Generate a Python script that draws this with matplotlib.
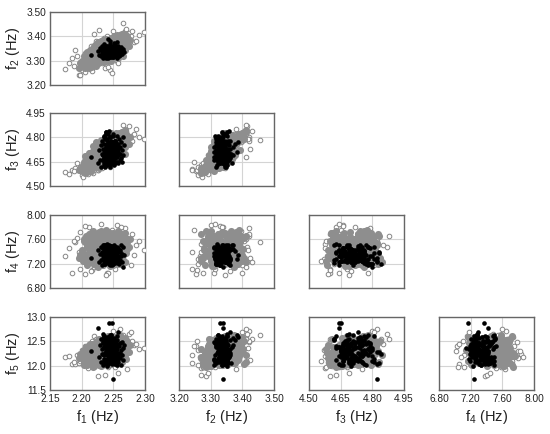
import matplotlib
matplotlib.use('Agg')
import matplotlib.pyplot as plt

plt.rcParams['font.family'] = ['Liberation Sans', 'DejaVu Sans']
plt.rcParams['mathtext.default'] = 'regular'

# dense middle of the grey cloud
core_f1 = [2.200, 2.202, 2.204, 2.205, 2.207, 2.208, 2.209, 2.210, 2.211, 2.212,
           2.213, 2.214, 2.215, 2.216, 2.216, 2.217, 2.218, 2.219, 2.220, 2.220,
           2.221, 2.222, 2.223, 2.224, 2.224, 2.225, 2.226, 2.227, 2.228, 2.228,
           2.229, 2.230, 2.231, 2.232, 2.232, 2.233, 2.234, 2.235, 2.236, 2.236,
           2.237, 2.238, 2.239, 2.240, 2.240, 2.241, 2.242, 2.243, 2.244, 2.244,
           2.245, 2.246, 2.247, 2.248, 2.248, 2.249, 2.250, 2.251, 2.252, 2.252,
           2.253, 2.254, 2.255, 2.256, 2.256, 2.257, 2.258, 2.259, 2.260, 2.261,
           2.262, 2.263, 2.264, 2.265, 2.266, 2.267, 2.268, 2.269, 2.270, 2.272,
           2.198, 2.203, 2.206, 2.209, 2.211, 2.213, 2.215, 2.217, 2.218, 2.220,
           2.222, 2.223, 2.225, 2.226, 2.227, 2.228, 2.229, 2.230, 2.231, 2.232,
           2.233, 2.234, 2.235, 2.235, 2.236, 2.237, 2.238, 2.239, 2.240, 2.241,
           2.242, 2.243, 2.244, 2.245, 2.246, 2.247, 2.248, 2.249, 2.250, 2.251,
           2.252, 2.253, 2.254, 2.255, 2.256, 2.257, 2.258, 2.259, 2.260, 2.261,
           2.262, 2.263, 2.264, 2.265, 2.266, 2.268, 2.270, 2.272, 2.274, 2.276,
           2.212, 2.218, 2.222, 2.226, 2.230, 2.234, 2.238, 2.242, 2.246, 2.250,
           2.228, 2.232, 2.236, 2.240, 2.244, 2.248, 2.252, 2.256, 2.220, 2.224,
           2.216, 2.214, 2.260, 2.264, 2.258, 2.254, 2.246, 2.238, 2.230, 2.208,
           2.206, 2.210, 2.266, 2.268, 2.200, 2.196]
core_f2 = [3.280, 3.300, 3.275, 3.305, 3.290, 3.312, 3.283, 3.298, 3.318, 3.290,
           3.325, 3.295, 3.312, 3.330, 3.285, 3.305, 3.320, 3.298, 3.335, 3.310,
           3.290, 3.325, 3.345, 3.305, 3.330, 3.315, 3.350, 3.300, 3.335, 3.320,
           3.298, 3.345, 3.315, 3.360, 3.330, 3.305, 3.350, 3.322, 3.340, 3.365,
           3.312, 3.355, 3.330, 3.372, 3.345, 3.318, 3.362, 3.338, 3.382, 3.350,
           3.325, 3.375, 3.345, 3.360, 3.390, 3.335, 3.370, 3.350, 3.385, 3.342,
           3.340, 3.395, 3.365, 3.350, 3.385, 3.372, 3.345, 3.400, 3.375, 3.360,
           3.392, 3.368, 3.405, 3.382, 3.358, 3.395, 3.378, 3.410, 3.388, 3.402,
           3.290, 3.320, 3.268, 3.335, 3.270, 3.345, 3.275, 3.350, 3.285, 3.360,
           3.280, 3.370, 3.290, 3.375, 3.340, 3.295, 3.330, 3.380, 3.300, 3.345,
           3.385, 3.310, 3.295, 3.340, 3.375, 3.325, 3.390, 3.305, 3.350, 3.300,
           3.380, 3.320, 3.365, 3.310, 3.395, 3.340, 3.318, 3.370, 3.330, 3.400,
           3.322, 3.355, 3.385, 3.330, 3.405, 3.340, 3.365, 3.395, 3.325, 3.375,
           3.345, 3.410, 3.330, 3.360, 3.385, 3.345, 3.370, 3.390, 3.360, 3.385,
           3.300, 3.310, 3.318, 3.296, 3.322, 3.304, 3.312, 3.326, 3.300, 3.320,
           3.360, 3.372, 3.350, 3.380, 3.366, 3.392, 3.378, 3.358, 3.352, 3.338,
           3.320, 3.310, 3.350, 3.375, 3.312, 3.340, 3.345, 3.335, 3.300, 3.285,
           3.300, 3.325, 3.320, 3.360, 3.300, 3.270]
core_f3 = [4.590, 4.630, 4.600, 4.620, 4.615, 4.668, 4.585, 4.650, 4.640, 4.628,
           4.702, 4.605, 4.672, 4.680, 4.622, 4.635, 4.692, 4.658, 4.722, 4.645,
           4.640, 4.662, 4.750, 4.672, 4.712, 4.632, 4.735, 4.652, 4.692, 4.705,
           4.625, 4.702, 4.682, 4.770, 4.665, 4.675, 4.742, 4.712, 4.732, 4.755,
           4.690, 4.722, 4.752, 4.792, 4.682, 4.655, 4.762, 4.715, 4.802, 4.745,
           4.672, 4.782, 4.725, 4.695, 4.815, 4.742, 4.752, 4.772, 4.795, 4.705,
           4.735, 4.805, 4.765, 4.715, 4.775, 4.745, 4.758, 4.825, 4.792, 4.728,
           4.785, 4.812, 4.835, 4.765, 4.778, 4.808, 4.755, 4.845, 4.822, 4.795,
           4.605, 4.650, 4.580, 4.670, 4.610, 4.690, 4.595, 4.710, 4.630, 4.730,
           4.620, 4.735, 4.660, 4.760, 4.700, 4.610, 4.740, 4.770, 4.640, 4.680,
           4.780, 4.720, 4.630, 4.690, 4.790, 4.660, 4.775, 4.700, 4.730, 4.650,
           4.760, 4.670, 4.800, 4.690, 4.810, 4.710, 4.660, 4.770, 4.680, 4.800,
           4.730, 4.700, 4.820, 4.690, 4.790, 4.740, 4.760, 4.810, 4.720, 4.780,
           4.705, 4.830, 4.750, 4.770, 4.800, 4.740, 4.770, 4.810, 4.760, 4.800,
           4.705, 4.745, 4.770, 4.690, 4.785, 4.730, 4.760, 4.795, 4.715, 4.770,
           4.655, 4.680, 4.640, 4.710, 4.665, 4.725, 4.690, 4.660, 4.640, 4.620,
           4.610, 4.590, 4.680, 4.725, 4.780, 4.825, 4.825, 4.810, 4.740, 4.660,
           4.685, 4.610, 4.760, 4.700, 4.610, 4.600]
core_f4 = [7.42, 7.25, 7.58, 7.35, 7.66, 7.48, 7.18, 7.52, 7.30, 7.62,
           7.38, 7.70, 7.22, 7.46, 7.56, 7.28, 7.64, 7.40, 7.20, 7.54,
           7.33, 7.68, 7.44, 7.16, 7.60, 7.36, 7.50, 7.26, 7.72, 7.41,
           7.57, 7.24, 7.47, 7.65, 7.31, 7.19, 7.53, 7.39, 7.69, 7.27,
           7.45, 7.61, 7.34, 7.55, 7.21, 7.43, 7.67, 7.29, 7.51, 7.37,
           7.63, 7.23, 7.49, 7.59, 7.32, 7.71, 7.17, 7.44, 7.56, 7.40,
           7.28, 7.66, 7.38, 7.52, 7.20, 7.60, 7.46, 7.34, 7.70, 7.25,
           7.55, 7.42, 7.30, 7.62, 7.48, 7.36, 7.58, 7.22, 7.50, 7.44,
           7.34, 7.60, 7.24, 7.50, 7.68, 7.40, 7.30, 7.56, 7.74, 7.20,
           7.46, 7.64, 7.36, 7.14, 7.54, 7.70, 7.26, 7.44, 7.62, 7.32,
           7.52, 7.18, 7.66, 7.42, 7.28, 7.58, 7.76, 7.38, 7.22, 7.48,
           7.72, 7.34, 7.56, 7.16, 7.64, 7.44, 7.30, 7.60, 7.50, 7.24,
           7.68, 7.40, 7.54, 7.28, 7.62, 7.36, 7.74, 7.46, 7.20, 7.58,
           7.42, 7.66, 7.32, 7.52, 7.26, 7.70, 7.38, 7.56, 7.48, 7.60,
           7.44, 7.28, 7.60, 7.36, 7.52, 7.22, 7.66, 7.40, 7.56, 7.30,
           7.48, 7.18, 7.62, 7.34, 7.70, 7.26, 7.54, 7.42, 7.64, 7.24,
           7.50, 7.32, 7.58, 7.46, 7.38, 7.68, 7.20, 7.52, 7.74, 7.36,
           7.56, 7.28, 7.44, 7.62, 7.40, 7.30]
core_f5 = [12.15, 12.30, 12.02, 12.22, 12.38, 12.08, 12.26, 12.12, 12.42, 12.18,
           12.32, 12.05, 12.24, 12.45, 12.10, 12.20, 12.36, 12.00, 12.28, 12.14,
           12.40, 12.18, 12.06, 12.30, 12.50, 12.22, 12.12, 12.34, 12.02, 12.26,
           12.16, 12.44, 12.28, 12.08, 12.36, 12.52, 12.20, 12.04, 12.32, 12.42,
           12.24, 12.12, 12.48, 12.34, 12.18, 12.56, 12.06, 12.38, 12.28, 12.46,
           12.14, 12.52, 12.30, 12.08, 12.40, 12.22, 12.58, 12.34, 12.16, 12.46,
           12.44, 12.26, 12.10, 12.54, 12.36, 12.18, 12.60, 12.30, 12.20, 12.48,
           12.38, 12.24, 12.50, 12.14, 12.42, 12.32, 12.56, 12.22, 12.46, 12.34,
           12.24, 12.10, 12.34, 12.02, 12.18, 12.44, 12.06, 12.28, 11.98, 12.38,
           12.14, 12.48, 12.22, 12.32, 12.04, 12.54, 12.16, 12.40, 12.00, 12.30,
           12.12, 12.46, 12.26, 12.56, 12.08, 12.36, 12.20, 12.50, 12.02, 12.42,
           12.60, 12.18, 12.32, 12.10, 12.52, 12.28, 12.44, 12.06, 12.38, 12.58,
           12.22, 12.12, 12.48, 12.34, 12.04, 12.56, 12.26, 12.40, 12.16, 12.62,
           12.30, 12.08, 12.46, 12.20, 12.54, 12.36, 12.14, 12.50, 12.28, 12.42,
           12.20, 12.08, 12.32, 12.44, 12.14, 12.26, 12.52, 12.02, 12.36, 12.18,
           12.46, 12.10, 12.30, 12.56, 12.22, 12.40, 12.06, 12.50, 12.34, 12.16,
           12.28, 12.42, 12.60, 12.12, 12.24, 12.48, 12.04, 12.38, 12.20, 12.30,
           12.14, 12.24, 12.40, 12.28, 12.20, 12.16]

# open circles round the rim of the grey cloud
rim_f1 = [2.174, 2.185, 2.190, 2.195, 2.198, 2.200, 2.192, 2.206, 2.210, 2.197,
          2.212, 2.216, 2.220, 2.225, 2.228, 2.232, 2.237, 2.240, 2.245, 2.248,
          2.250, 2.255, 2.258, 2.260, 2.265, 2.268, 2.270, 2.272, 2.275, 2.278,
          2.280, 2.282, 2.285, 2.290, 2.298, 2.180, 2.188, 2.205, 2.215, 2.222,
          2.235, 2.242, 2.252, 2.262, 2.266, 2.202, 2.218, 2.226, 2.238, 2.230]
rim_f2 = [3.267, 3.310, 3.345, 3.240, 3.240, 3.260, 3.320, 3.255, 3.268, 3.295,
          3.340, 3.258, 3.410, 3.285, 3.425, 3.290, 3.270, 3.400, 3.260, 3.248,
          3.420, 3.300, 3.290, 3.410, 3.455, 3.420, 3.430, 3.380, 3.415, 3.400,
          3.420, 3.375, 3.380, 3.405, 3.418, 3.290, 3.280, 3.330, 3.360, 3.380,
          3.395, 3.275, 3.315, 3.335, 3.412, 3.272, 3.275, 3.300, 3.345, 3.315]
rim_f3 = [4.585, 4.600, 4.610, 4.605, 4.600, 4.570, 4.640, 4.590, 4.575, 4.620,
          4.630, 4.600, 4.680, 4.600, 4.730, 4.610, 4.630, 4.780, 4.620, 4.650,
          4.800, 4.660, 4.690, 4.820, 4.785, 4.790, 4.840, 4.750, 4.870, 4.810,
          4.780, 4.820, 4.850, 4.800, 4.790, 4.575, 4.590, 4.660, 4.700, 4.760,
          4.770, 4.640, 4.680, 4.720, 4.878, 4.555, 4.580, 4.600, 4.690, 4.640]
rim_f4 = [7.32, 7.05, 7.55, 7.40, 7.12, 7.28, 7.62, 7.03, 7.52, 7.72,
          7.80, 7.10, 7.15, 7.38, 7.30, 7.60, 7.40, 7.05, 7.20, 7.75,
          7.65, 7.84, 7.45, 7.60, 7.55, 7.78, 7.22, 7.63, 7.48, 7.18,
          7.68, 7.35, 7.50, 7.58, 7.42, 7.45, 7.58, 7.82, 7.08, 7.70,
          7.74, 7.04, 7.12, 7.80, 7.66, 7.25, 7.58, 7.68, 7.02, 7.86]
rim_f5 = [12.17, 12.03, 12.03, 12.05, 12.22, 12.33, 12.22, 12.40, 11.95, 12.10,
          12.30, 12.50, 12.60, 11.78, 12.12, 12.00, 11.80, 12.45, 12.02, 12.40,
          12.72, 12.25, 11.85, 12.75, 12.62, 12.48, 12.55, 11.93, 12.65, 12.70,
          12.50, 12.42, 12.45, 12.35, 12.37, 12.20, 12.08, 12.30, 12.18, 12.55,
          12.58, 11.98, 11.98, 12.15, 12.55, 12.10, 11.98, 12.55, 12.30, 12.18]

# black points
black_f1 = [2.214, 2.226, 2.228, 2.229, 2.230, 2.231, 2.232, 2.232, 2.233, 2.234,
            2.234, 2.235, 2.235, 2.236, 2.236, 2.237, 2.237, 2.238, 2.238, 2.239,
            2.239, 2.240, 2.240, 2.241, 2.241, 2.242, 2.242, 2.243, 2.243, 2.244,
            2.244, 2.245, 2.245, 2.246, 2.246, 2.247, 2.247, 2.248, 2.248, 2.249,
            2.249, 2.250, 2.250, 2.251, 2.251, 2.252, 2.252, 2.253, 2.253, 2.254,
            2.254, 2.255, 2.255, 2.256, 2.256, 2.257, 2.258, 2.258, 2.259, 2.260,
            2.260, 2.261, 2.262, 2.262, 2.263, 2.264, 2.265, 2.266, 2.267, 2.245,
            2.233, 2.241, 2.249, 2.237, 2.245, 2.253, 2.235, 2.243, 2.251, 2.239,
            2.247, 2.255, 2.236, 2.244, 2.252, 2.240, 2.248, 2.256, 2.238, 2.246,
            2.254, 2.242, 2.250, 2.234, 2.257, 2.244, 2.238, 2.252, 2.246, 2.241,
            2.249, 2.236, 2.255, 2.243, 2.247, 2.239, 2.251, 2.245, 2.258, 2.240,
            2.233, 2.253, 2.248, 2.242, 2.237, 2.250, 2.244, 2.256, 2.246, 2.241,
            2.240, 2.246, 2.242, 2.250, 2.238, 2.244, 2.248, 2.252, 2.241, 2.247,
            2.243, 2.249, 2.239, 2.245, 2.251, 2.242, 2.247, 2.240, 2.253, 2.244,
            2.246, 2.241, 2.249, 2.238, 2.250, 2.243, 2.248, 2.245, 2.252, 2.240,
            2.247, 2.242, 2.244, 2.251, 2.239, 2.246, 2.249, 2.243, 2.248, 2.241]
black_f2 = [3.322, 3.340, 3.325, 3.352, 3.318, 3.345, 3.330, 3.360, 3.312, 3.338,
            3.350, 3.322, 3.368, 3.335, 3.315, 3.355, 3.328, 3.345, 3.310, 3.362,
            3.335, 3.320, 3.350, 3.387, 3.330, 3.345, 3.312, 3.358, 3.340, 3.325,
            3.370, 3.335, 3.316, 3.352, 3.342, 3.322, 3.362, 3.330, 3.348, 3.314,
            3.358, 3.338, 3.325, 3.372, 3.345, 3.318, 3.355, 3.332, 3.365, 3.340,
            3.322, 3.350, 3.312, 3.345, 3.378, 3.328, 3.360, 3.335, 3.318, 3.352,
            3.342, 3.325, 3.358, 3.335, 3.348, 3.328, 3.340, 3.350, 3.334, 3.382,
            3.332, 3.318, 3.352, 3.345, 3.326, 3.340, 3.322, 3.356, 3.334, 3.348,
            3.316, 3.338, 3.352, 3.328, 3.344, 3.360, 3.320, 3.336, 3.330, 3.350,
            3.326, 3.342, 3.314, 3.338, 3.354, 3.346, 3.324, 3.336, 3.358, 3.330,
            3.344, 3.318, 3.350, 3.334, 3.322, 3.352, 3.340, 3.328, 3.346, 3.336,
            3.326, 3.358, 3.332, 3.342, 3.348, 3.320, 3.354, 3.338, 3.330, 3.344,
            3.332, 3.344, 3.326, 3.338, 3.350, 3.322, 3.346, 3.334, 3.340, 3.328,
            3.352, 3.336, 3.324, 3.342, 3.330, 3.348, 3.320, 3.338, 3.344, 3.326,
            3.354, 3.334, 3.328, 3.342, 3.336, 3.350, 3.322, 3.346, 3.332, 3.340,
            3.330, 3.352, 3.324, 3.338, 3.344, 3.328, 3.348, 3.334, 3.326, 3.342]
black_f3 = [4.68, 4.64, 4.72, 4.66, 4.75, 4.62, 4.70, 4.78, 4.66, 4.73,
            4.69, 4.81, 4.64, 4.76, 4.67, 4.71, 4.79, 4.65, 4.74, 4.68,
            4.83, 4.63, 4.70, 4.77, 4.66, 4.72, 4.68, 4.84, 4.65, 4.75,
            4.69, 4.80, 4.62, 4.73, 4.67, 4.78, 4.70, 4.64, 4.76, 4.71,
            4.66, 4.82, 4.69, 4.74, 4.63, 4.72, 4.78, 4.67, 4.70, 4.75,
            4.65, 4.81, 4.71, 4.68, 4.76, 4.64, 4.73, 4.69, 4.79, 4.66,
            4.74, 4.70, 4.67, 4.77, 4.72, 4.65, 4.80, 4.69, 4.75, 4.71,
            4.70, 4.77, 4.66, 4.73, 4.80, 4.64, 4.72, 4.68, 4.76, 4.82,
            4.69, 4.74, 4.63, 4.71, 4.78, 4.67, 4.75, 4.65, 4.79, 4.70,
            4.73, 4.66, 4.81, 4.69, 4.76, 4.63, 4.72, 4.78, 4.67, 4.74,
            4.65, 4.80, 4.70, 4.76, 4.68, 4.83, 4.64, 4.73, 4.71, 4.79,
            4.66, 4.75, 4.69, 4.82, 4.62, 4.77, 4.68, 4.72, 4.74, 4.65,
            4.68, 4.72, 4.75, 4.66, 4.70, 4.74, 4.67, 4.71, 4.76, 4.69,
            4.73, 4.65, 4.70, 4.75, 4.68, 4.72, 4.66, 4.74, 4.69, 4.71,
            4.67, 4.76, 4.70, 4.73, 4.68, 4.65, 4.72, 4.75, 4.69, 4.66,
            4.74, 4.71, 4.67, 4.70, 4.73, 4.76, 4.68, 4.72, 4.65, 4.74]
black_f4 = [7.30, 7.42, 7.22, 7.36, 7.48, 7.26, 7.40, 7.18, 7.33, 7.45,
            7.28, 7.38, 7.50, 7.24, 7.35, 7.43, 7.20, 7.31, 7.46, 7.27,
            7.39, 7.52, 7.23, 7.34, 7.41, 7.29, 7.47, 7.19, 7.37, 7.25,
            7.44, 7.32, 7.21, 7.49, 7.36, 7.28, 7.42, 7.17, 7.38, 7.30,
            7.46, 7.24, 7.34, 7.51, 7.27, 7.40, 7.21, 7.35, 7.44, 7.31,
            7.25, 7.48, 7.37, 7.22, 7.41, 7.33, 7.29, 7.45, 7.19, 7.39,
            7.26, 7.43, 7.32, 7.50, 7.23, 7.36, 7.14, 7.47, 7.34, 7.28,
            7.37, 7.24, 7.46, 7.31, 7.20, 7.42, 7.28, 7.50, 7.35, 7.22,
            7.44, 7.30, 7.38, 7.18, 7.48, 7.26, 7.40, 7.33, 7.46, 7.23,
            7.36, 7.43, 7.28, 7.51, 7.21, 7.39, 7.32, 7.47, 7.25, 7.41,
            7.35, 7.19, 7.44, 7.29, 7.49, 7.37, 7.22, 7.42, 7.27, 7.33,
            7.45, 7.24, 7.39, 7.30, 7.50, 7.20, 7.36, 7.43, 7.26, 7.34,
            7.28, 7.36, 7.24, 7.40, 7.32, 7.26, 7.38, 7.30, 7.42, 7.34,
            7.25, 7.37, 7.29, 7.41, 7.33, 7.27, 7.39, 7.31, 7.35, 7.24,
            7.40, 7.28, 7.36, 7.32, 7.26, 7.38, 7.30, 7.42, 7.34, 7.25,
            7.37, 7.29, 7.41, 7.33, 7.27, 7.39, 7.31, 7.35, 7.24, 7.40]
black_f5 = [12.30, 12.78, 12.18, 12.42, 12.08, 12.55, 12.25, 12.35, 12.02, 12.48,
            12.65, 12.14, 12.38, 12.60, 12.22, 12.05, 12.45, 12.32, 12.12, 12.52,
            12.28, 12.40, 12.00, 12.58, 12.16, 12.36, 12.48, 12.24, 12.87, 12.08,
            12.42, 12.20, 12.54, 12.10, 12.34, 12.62, 12.26, 12.87, 12.04, 12.46,
            12.18, 11.73, 12.30, 12.56, 12.12, 12.38, 12.22, 12.50, 12.06, 12.44,
            12.28, 12.60, 12.14, 12.34, 12.52, 12.20, 12.70, 12.08, 12.40, 12.26,
            12.46, 12.16, 12.32, 12.02, 12.48, 12.22, 12.36, 12.12, 12.42, 12.62,
            12.24, 12.44, 12.10, 12.56, 12.32, 12.04, 12.38, 12.18, 12.50, 12.28,
            12.06, 12.42, 12.60, 12.14, 12.34, 12.22, 12.52, 12.02, 12.46, 12.30,
            12.16, 12.40, 12.08, 12.54, 12.26, 12.36, 12.12, 12.48, 12.20, 12.58,
            12.32, 12.10, 12.44, 12.24, 12.62, 12.06, 12.38, 12.50, 12.16, 12.28,
            12.46, 12.20, 12.34, 12.04, 12.52, 12.26, 12.42, 12.12, 12.56, 12.30,
            12.32, 12.18, 12.42, 12.26, 12.12, 12.36, 12.48, 12.22, 12.30, 12.40,
            12.14, 12.34, 12.46, 12.20, 12.28, 12.38, 12.10, 12.44, 12.24, 12.50,
            12.16, 12.32, 12.40, 12.26, 12.36, 12.18, 12.46, 12.30, 12.12, 12.42,
            12.22, 12.34, 12.48, 12.14, 12.38, 12.28, 12.44, 12.20, 12.36, 12.24]

core = [core_f1, core_f2, core_f3, core_f4, core_f5]
rim = [rim_f1, rim_f2, rim_f3, rim_f4, rim_f5]
black = [black_f1, black_f2, black_f3, black_f4, black_f5]

ticks = [[2.15, 2.20, 2.25, 2.30],
         [3.20, 3.30, 3.40, 3.50],
         [4.50, 4.65, 4.80, 4.95],
         [6.80, 7.20, 7.60, 8.00],
         [11.5, 12.0, 12.5, 13.0]]
formats = ['%.2f', '%.2f', '%.2f', '%.2f', '%.1f']
labels = ['f$_{1}$ (Hz)', 'f$_{2}$ (Hz)', 'f$_{3}$ (Hz)', 'f$_{4}$ (Hz)', 'f$_{5}$ (Hz)']

W, H = 550, 434
lefts = [50, 179, 309, 439]
tops = [12, 113, 215, 317]
pw, ph = 95, 73

fig = plt.figure(figsize=(W / 100, H / 100), dpi=100)

for row in range(4):
    for col in range(row + 1):
        ax = fig.add_axes([lefts[col] / W, 1 - (tops[row] + ph) / H, pw / W, ph / H])
        xi, yi = col, row + 1
        ax.scatter(rim[xi], rim[yi], s=11, facecolors='white', edgecolors='#868686',
                   linewidths=0.7, zorder=3)
        ax.scatter(core[xi], core[yi], s=26, color='#8e8e8e', linewidths=0, zorder=4)
        ax.scatter(black[xi], black[yi], s=11, color='black', linewidths=0, zorder=5)

        ax.set_xlim(ticks[xi][0], ticks[xi][-1])
        ax.set_ylim(ticks[yi][0], ticks[yi][-1])
        ax.set_xticks(ticks[xi])
        ax.set_yticks(ticks[yi])
        ax.grid(True, color='#d4d4d4', linewidth=0.8, zorder=1)
        ax.set_axisbelow(True)
        ax.tick_params(length=0, labelsize=7.3, pad=3, colors='#222222')
        for spine in ax.spines.values():
            spine.set_color('#666666')
            spine.set_linewidth(1.0)

        if row == 3:
            ax.set_xticklabels([formats[xi] % t for t in ticks[xi]])
            ax.set_xlabel(labels[xi], fontsize=10.5, labelpad=3, color='#222222')
        else:
            ax.set_xticklabels([])
        if col == 0:
            ax.set_yticklabels([formats[yi] % t for t in ticks[yi]])
            ax.set_ylabel(labels[yi], fontsize=10.5, labelpad=3, color='#222222')
        else:
            ax.set_yticklabels([])

fig.savefig('out.png', dpi=100)
